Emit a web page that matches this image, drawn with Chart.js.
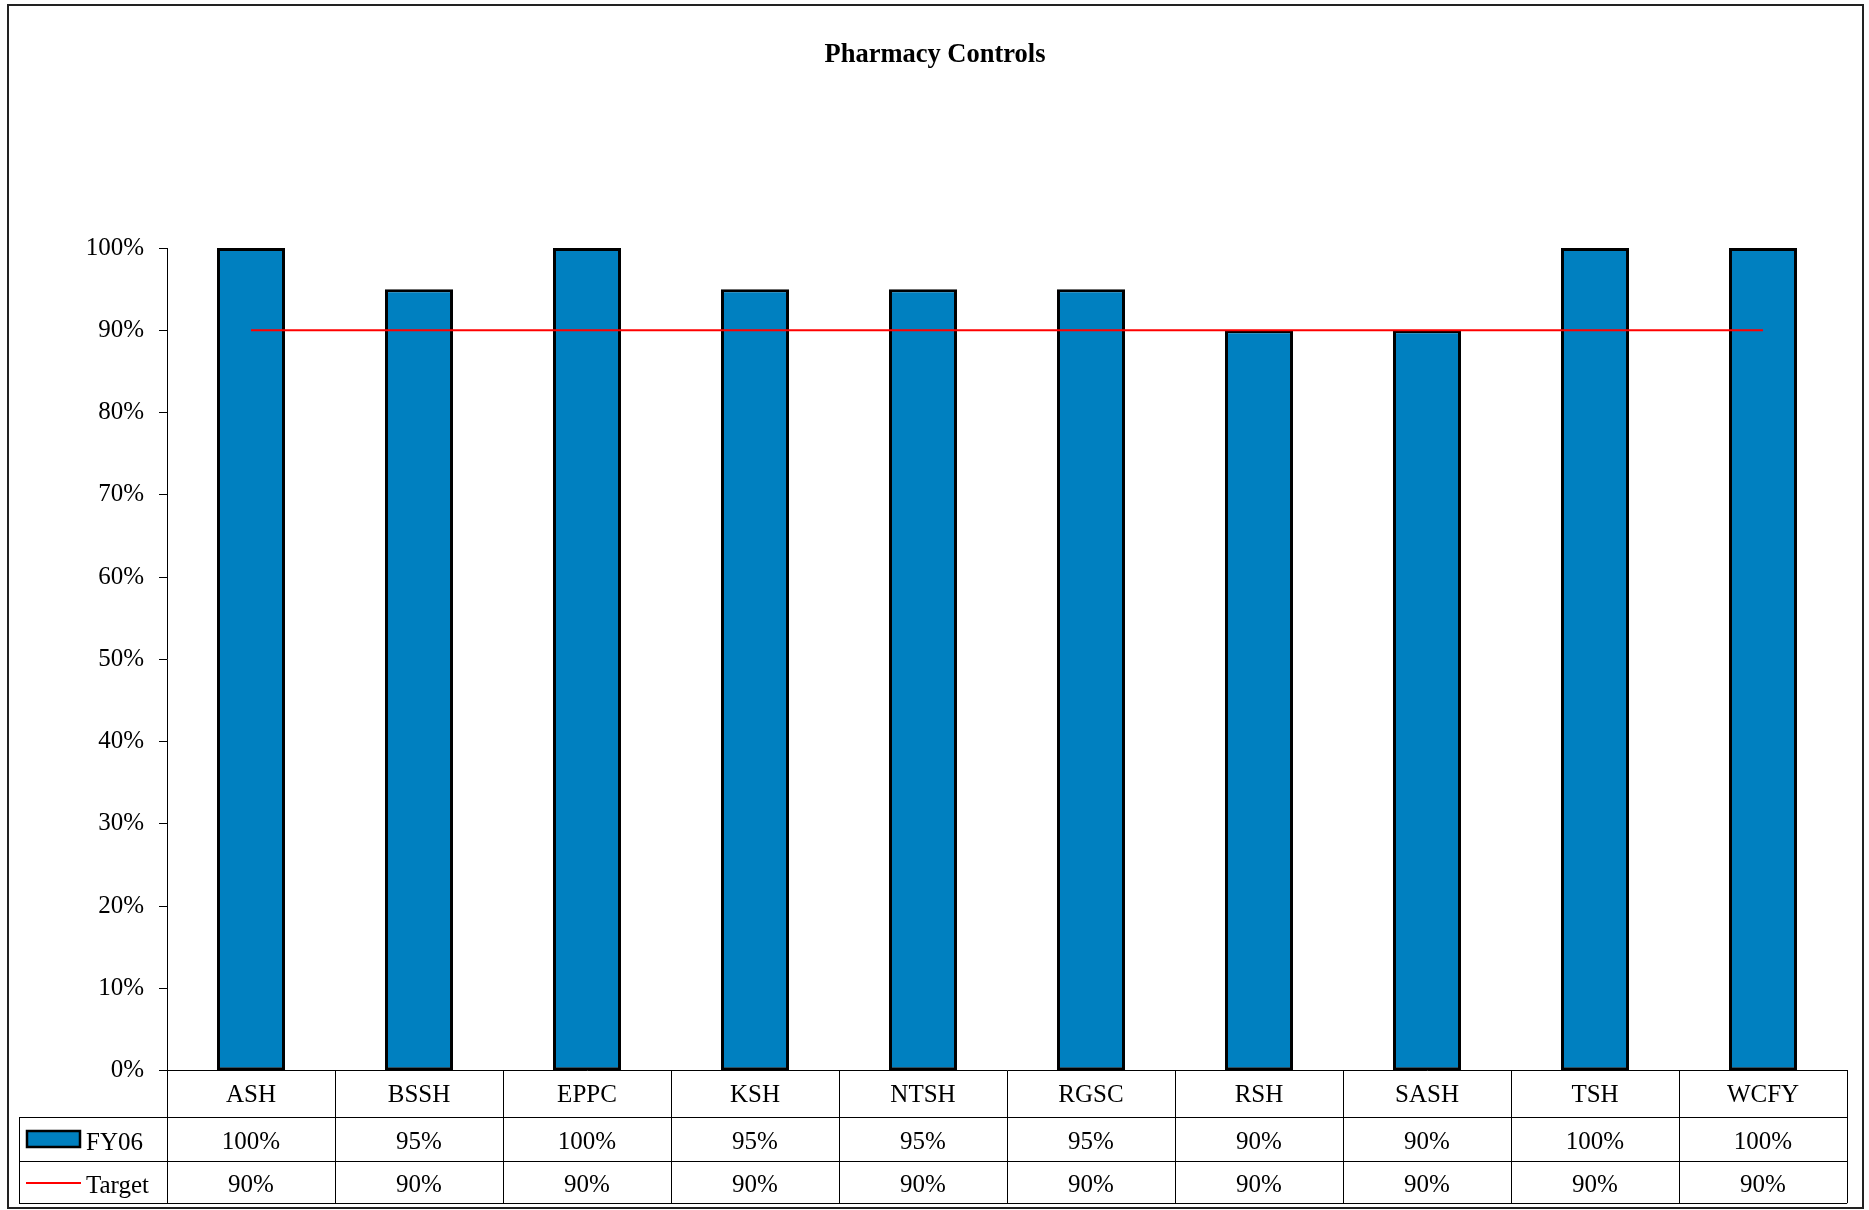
<!DOCTYPE html>
<html>
<head>
<meta charset="utf-8">
<script src="https://cdn.jsdelivr.net/npm/chart.js@4.4.1/dist/chart.umd.min.js"></script>
<style>
  html, body { margin: 0; padding: 0; background: #fff; }
  #wrap { width: 1869px; height: 1210px; position: relative; }
</style>
</head>
<body>
<div id="wrap"><canvas id="c"></canvas></div>
<script>
const categories = ['ASH', 'BSSH', 'EPPC', 'KSH', 'NTSH', 'RGSC', 'RSH', 'SASH', 'TSH', 'WCFY'];
const fy06 = [100, 95, 100, 95, 95, 95, 90, 90, 100, 100];
const target = [90, 90, 90, 90, 90, 90, 90, 90, 90, 90];
const seriesNames = ['FY06', 'Target'];
const yTicks = [0, 10, 20, 30, 40, 50, 60, 70, 80, 90, 100];
const titleText = 'Pharmacy Controls';

const FONT = 'Liberation Serif, Times New Roman, serif';
const BAR_COLOR = '#0080C0';
const LINE_COLOR = '#FF0000';

const tablePlugin = {
  id: 'dataTable',
  beforeDraw(chart) {
    const ctx = chart.ctx;
    ctx.save();
    ctx.fillStyle = '#fff';
    ctx.fillRect(0, 0, chart.width, chart.height);
    ctx.fillStyle = '#000';
    ctx.font = 'bold 26.5px ' + FONT;
    ctx.textAlign = 'center';
    ctx.textBaseline = 'middle';
    ctx.fillText(titleText, 935, 55.5);
    ctx.restore();
  },
  afterDraw(chart) {
    const ctx = chart.ctx;
    const area = chart.chartArea;
    const xs = chart.scales.x;
    const n = categories.length;
    const catW = (area.right - area.left) / n;
    const top = area.bottom;
    const r1 = top + 46.5, r2 = top + 90, r3 = top + 132.5;
    const tableLeft = 19;

    ctx.save();
    ctx.strokeStyle = '#000';
    ctx.lineWidth = 1;
    ctx.beginPath();
    [r1, r2, r3].forEach(y => {
      ctx.moveTo(tableLeft, Math.round(y) + 0.5);
      ctx.lineTo(area.right, Math.round(y) + 0.5);
    });
    for (let i = 0; i <= n; i++) {
      const x = Math.round(xs.getPixelForValue(i) - catW / 2) + 0.5;
      ctx.moveTo(x, top);
      ctx.lineTo(x, r3);
    }
    ctx.moveTo(tableLeft + 0.5, r1);
    ctx.lineTo(tableLeft + 0.5, r3);
    ctx.stroke();

    ctx.fillStyle = '#000';
    ctx.font = '25px ' + FONT;
    ctx.textAlign = 'center';
    ctx.textBaseline = 'middle';
    const rows = [fy06, target];
    for (let i = 0; i < n; i++) {
      const cx = xs.getPixelForValue(i);
      ctx.fillText(categories[i], cx, (top + r1) / 2 + 1);
      ctx.fillText(rows[0][i] + '%', cx, (r1 + r2) / 2 + 3);
      ctx.fillText(rows[1][i] + '%', cx, (r2 + r3) / 2 + 3);
    }
    ctx.textAlign = 'left';
    ctx.fillText(seriesNames[0], 86, (r1 + r2) / 2 + 4);
    ctx.fillText(seriesNames[1], 86, (r2 + r3) / 2 + 4);
    ctx.fillStyle = BAR_COLOR;
    ctx.fillRect(27, 1131, 53, 16);
    ctx.lineWidth = 2.5;
    ctx.strokeStyle = '#000';
    ctx.strokeRect(27, 1131, 53, 16);
    ctx.lineWidth = 2;
    ctx.strokeStyle = LINE_COLOR;
    ctx.beginPath();
    ctx.moveTo(26, 1183);
    ctx.lineTo(81, 1183);
    ctx.stroke();

    ctx.strokeStyle = '#222';
    ctx.lineWidth = 2;
    ctx.strokeRect(8, 5, 1855, 1203);
    ctx.restore();
  }
};

new Chart(document.getElementById('c'), {
  data: {
    labels: categories,
    datasets: [
      {
        type: 'line',
        label: seriesNames[1],
        data: target,
        borderColor: LINE_COLOR,
        borderWidth: 2,
        pointRadius: 0,
        tension: 0,
        order: 0
      },
      {
        type: 'bar',
        label: seriesNames[0],
        data: fy06,
        backgroundColor: BAR_COLOR,
        borderColor: '#000',
        borderWidth: 3,
        borderSkipped: false,
        barPercentage: 0.405,
        categoryPercentage: 1,
        order: 1
      }
    ]
  },
  options: {
    responsive: true,
    maintainAspectRatio: false,
    animation: false,
    layout: { padding: { left: 0, right: 22, top: 248, bottom: 0 } },
    plugins: {
      legend: { display: false },
      tooltip: { enabled: false },
      title: { display: false }
    },
    scales: {
      x: {
        type: 'category',
        offset: true,
        ticks: { display: false },
        grid: { display: false },
        border: { display: true, color: '#000', width: 1 },
        afterFit(scale) { scale.height = 139.3; }
      },
      y: {
        min: 0,
        max: 100,
        afterBuildTicks(scale) { scale.ticks = yTicks.map(v => ({ value: v })); },
        ticks: {
          color: '#000',
          font: { family: FONT, size: 25 },
          padding: 15,
          callback: v => v + '%'
        },
        grid: { display: true, drawOnChartArea: false, drawTicks: true, tickLength: 8, color: '#000' },
        border: { display: true, color: '#000', width: 1 },
        afterFit(scale) { scale.width = 167; }
      }
    }
  },
  plugins: [tablePlugin]
});
</script>
</body>
</html>
